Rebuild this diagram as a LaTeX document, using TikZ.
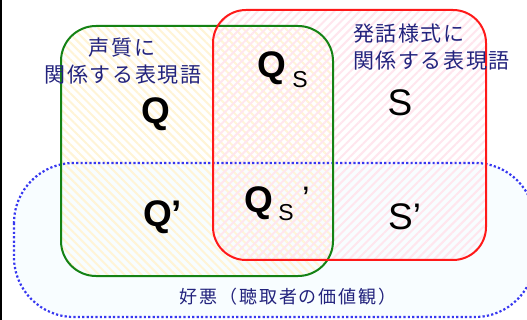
\documentclass[tikz,border=0pt]{standalone}
\usepackage{fontspec}
\setmainfont{Liberation Sans}
\newfontfamily\jpfont[LetterSpace=7.5]{Noto Sans CJK JP}
\newfontfamily\jpfontb[LetterSpace=11]{Noto Sans CJK JP}
\usetikzlibrary{patterns.meta}
\definecolor{navytxt}{RGB}{35,35,125}
\definecolor{grline}{RGB}{20,130,20}
\definecolor{rdline}{RGB}{255,25,25}
\definecolor{bldot}{RGB}{55,55,240}
\definecolor{blfill}{RGB}{248,253,255}
\definecolor{ylhatch}{RGB}{255,244,214}
\definecolor{pkhatch}{RGB}{255,230,238}
\tikzset{
  jptxt/.style={inner sep=0pt, text=navytxt, font=\jpfont\fontsize{21}{21}\selectfont},
  jptxtb/.style={inner sep=0pt, text=navytxt, font=\jpfontb\fontsize{18}{18}\selectfont},
  bigq/.style={inner sep=0pt, font=\bfseries\fontsize{37}{37}\selectfont},
  bigs/.style={inner sep=0pt, font=\fontsize{37}{37}\selectfont},
  subs/.style={inner sep=0pt, font=\fontsize{23}{23}\selectfont},
  apos/.style={inner sep=0pt, font=\fontsize{34}{34}\selectfont},
}
\begin{document}
\begin{tikzpicture}[x=1pt,y=-1pt]
\useasboundingbox (0,0) rectangle (527,320);
\fill[white] (0,0) rectangle (527,320);
\fill[black] (0,0) rectangle (2,320);
% preference region
\fill[blfill, rounded corners=60] (14,163) rectangle (535,317);
% hatched fills
\fill[pattern={Lines[angle=-45,distance=6pt,line width=2pt]}, pattern color=ylhatch, rounded corners=35] (61,26) rectangle (333,276);
\fill[pattern={Lines[angle=45,distance=6pt,line width=2pt]}, pattern color=pkhatch, rounded corners=33] (213,10) rectangle (486,260);
% borders
\draw[bldot, line width=2.2pt, dash pattern=on 2.2pt off 2.2pt, rounded corners=60] (14,163) rectangle (535,317);
\draw[grline, line width=2pt, rounded corners=35] (61,26) rectangle (333,276);
\draw[rdline, line width=2pt, rounded corners=33] (213,10) rectangle (486,260);
% labels
\node[jptxt] (ql1) at (122,47.5) {声質に};
\node[jptxt] (ql2) at (123,75) {関係する表現語};
\node[jptxt, anchor=west] (sl1) at (353,34) {発話様式に};
\node[jptxt, anchor=west] (sl2) at (353,61) {関係する表現語};
\node[bigq] (q) at (156,114) {Q};
\node[bigq] (qs) at (272,68) {Q};
\node[subs] (qss) at (300,80) {S};
\node[bigs] (s) at (400,103) {S};
\node[bigq, anchor=west] (qp) at (143,217) {Q’};
\node[bigq] (qsp) at (259,203) {Q};
\node[subs] (qsps) at (286,213) {S};
\node[apos] (qspa) at (306,199) {’};
\node[bigs, anchor=west] (sp) at (388,217) {S’};
\node[jptxtb] (pref) at (288,297) {好悪（聴取者の価値観）};
\end{tikzpicture}
\end{document}
